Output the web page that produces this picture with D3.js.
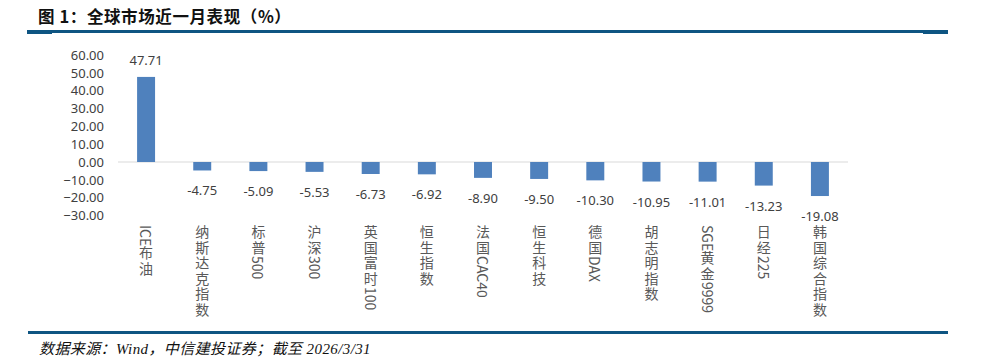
<!DOCTYPE html>
<html>
<head>
<meta charset="utf-8">
<script src="https://cdn.jsdelivr.net/npm/d3@7"></script>
<style>
  body { margin: 0; background: #fff; }
  svg { display: block; }
</style>
</head>
<body>
<div class="chart"></div>
<script>
const categories = ["ICE布油", "纳斯达克指数", "标普500", "沪深300", "英国富时100", "恒生指数", "法国CAC40",
    "恒生科技", "德国DAX", "胡志明指数", "SGE黄金9999", "日经225", "韩国综合指数"]
const values = [47.71, -4.75, -5.09, -5.53, -6.73, -6.92, -8.90, -9.50, -10.30, -10.95, -11.01, -13.23, -19.08]
const yTicks = [60, 50, 40, 30, 20, 10, 0, -10, -20, -30]

const width = 981
const height = 361
const barColor = "#4f81bd"
const ruleColor = "#0e5582"
const cjk = "'Noto Sans CJK SC', 'Noto Sans', sans-serif"

const svg = d3.select(".chart")
    .append("svg")
    .attr("width", width)
    .attr("height", height)

// title + rules
svg.append("text")
    .attr("x", 38)
    .attr("y", 23)
    .attr("font-family", cjk)
    .attr("font-size", 16.5)
    .attr("font-weight", "bold")
    .attr("letter-spacing", 0.6)
    .attr("fill", "#111")
    .text("图 1：全球市场近一月表现（%）")

svg.append("rect").attr("x", 27).attr("y", 30).attr("width", 921).attr("height", 3).attr("fill", ruleColor)
svg.append("rect").attr("x", 27).attr("y", 30).attr("width", 25).attr("height", 4).attr("fill", ruleColor)
svg.append("rect").attr("x", 923).attr("y", 30).attr("width", 25).attr("height", 4).attr("fill", ruleColor)
svg.append("rect").attr("x", 28).attr("y", 331).attr("width", 920).attr("height", 3).attr("fill", ruleColor)

svg.append("text")
    .attr("x", 39)
    .attr("y", 354)
    .attr("font-family", "'Liberation Serif', " + cjk)
    .attr("font-size", 15)
    .attr("font-style", "italic")
    .attr("letter-spacing", 0.4)
    .attr("fill", "#111")
    .text("数据来源：Wind，中信建投证券；截至 2026/3/31")

// scales
const xScale = d3.scaleBand()
    .domain(categories)
    .range([118, 848])
    .paddingInner(0.68)
    .paddingOuter(0.34)

const yScale = d3.scaleLinear()
    .domain([-30, 60])
    .range([215.5, 55])

// y axis
const yAxis = d3.axisLeft(yScale)
    .tickValues(yTicks)
    .tickSize(0)
    .tickPadding(0)
    .tickFormat(d3.format(".2f"))

svg.append("g")
    .attr("transform", "translate(104,0)")
    .call(yAxis)
    .call(g => g.select(".domain").remove())
    .call(g => g.selectAll("text")
        .attr("font-family", "'Noto Sans', sans-serif")
        .attr("font-size", 13)
        .attr("fill", "#404040"))

// zero line
svg.append("line")
    .attr("x1", 118).attr("x2", 848)
    .attr("y1", yScale(0)).attr("y2", yScale(0))
    .attr("stroke", "#d9d9d9")
    .attr("stroke-width", 1)

// bars
svg.append("g")
    .selectAll("rect")
    .data(values)
    .join("rect")
    .attr("x", (d, i) => xScale(categories[i]))
    .attr("width", xScale.bandwidth())
    .attr("y", d => yScale(Math.max(0, d)))
    .attr("height", d => Math.abs(yScale(d) - yScale(0)))
    .attr("fill", barColor)

// value labels
svg.append("g")
    .selectAll("text")
    .data(values)
    .join("text")
    .attr("x", (d, i) => xScale(categories[i]) + xScale.bandwidth() / 2)
    .attr("y", d => d >= 0 ? yScale(d) - 17 : yScale(d) + 20)
    .attr("text-anchor", "middle")
    .attr("dominant-baseline", "central")
    .attr("font-family", "'Noto Sans', sans-serif")
    .attr("font-size", 13)
    .attr("fill", "#404040")
    .text(d => d.toFixed(2))

// category labels, vertical; chinese chars a bit spaced, latin runs tight
const runs = s => s.match(/[A-Za-z0-9]+|[^A-Za-z0-9]+/g)

svg.append("g")
    .selectAll("text")
    .data(categories)
    .join("text")
    .attr("x", d => xScale(d) + xScale.bandwidth() / 2)
    .attr("y", 225)
    .attr("text-anchor", "start")
    .style("writing-mode", "vertical-rl")
    .style("text-orientation", "mixed")
    .attr("font-family", cjk)
    .attr("font-size", 14)
    .attr("fill", "#595959")
    .selectAll("tspan")
    .data(d => runs(d))
    .join("tspan")
    .attr("letter-spacing", r => /[A-Za-z0-9]/.test(r) ? 0 : 1.5)
    .text(r => r)
</script>
</body>
</html>
